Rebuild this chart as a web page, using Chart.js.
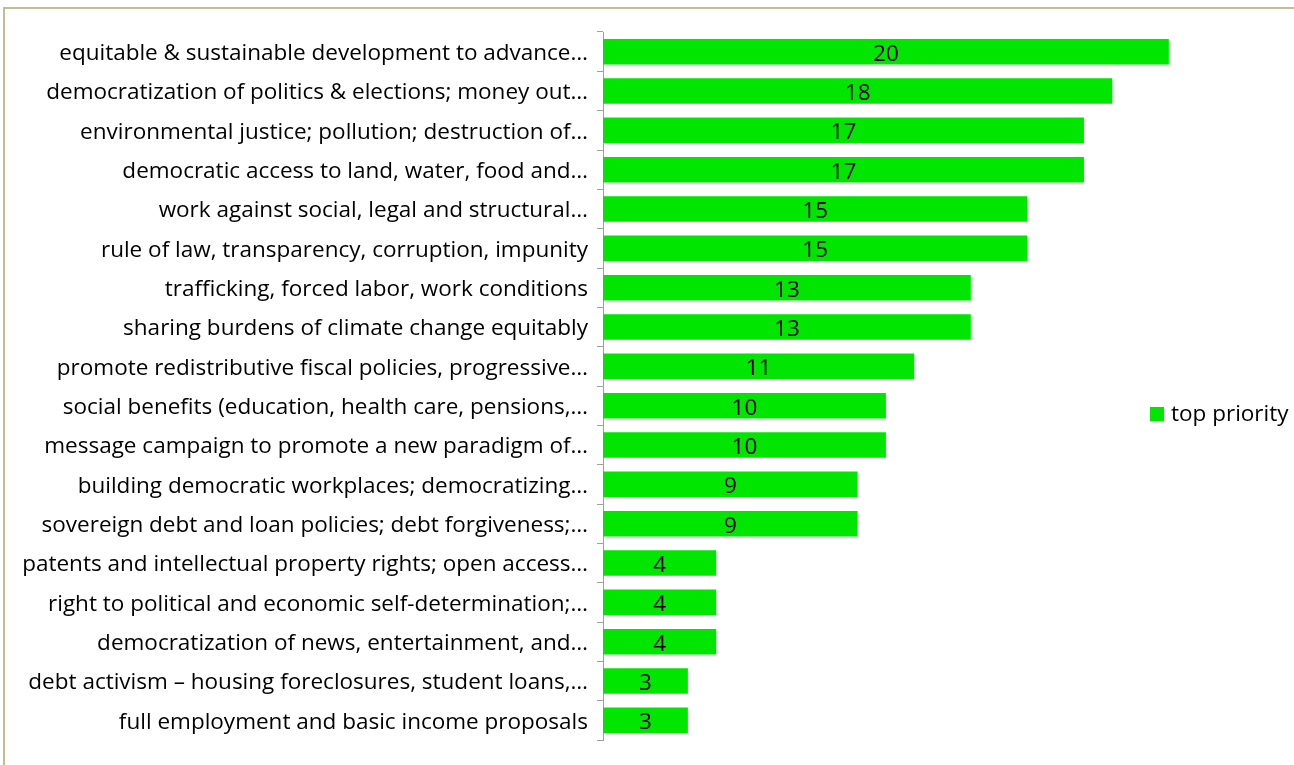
<!DOCTYPE html>
<html>
<head>
<meta charset="utf-8">
<script src="https://cdn.jsdelivr.net/npm/chart.js@4/dist/chart.umd.min.js"></script>
<style>
  html, body { margin: 0; padding: 0; background: #ffffff; overflow: hidden; }
  #wrap { position: relative; width: 1294px; height: 765px; }
  #frame { position: absolute; left: 3px; top: 7px; width: 1320px; height: 800px; border: 2px solid #C4BC96; box-sizing: border-box; pointer-events: none; }
  canvas { position: absolute; left: 0; top: 0; }
</style>
</head>
<body>
<div id="wrap">
  <canvas id="c" width="1294" height="765"></canvas>
  <div id="frame"></div>
</div>
<script>
const categories = [
  "equitable & sustainable development to advance…",
  "democratization of politics & elections; money out…",
  "environmental justice; pollution; destruction of…",
  "democratic access to land, water, food and…",
  "work against social, legal and structural…",
  "rule of law, transparency, corruption, impunity",
  "trafficking, forced labor, work conditions",
  "sharing burdens of climate change equitably",
  "promote redistributive fiscal policies, progressive…",
  "social benefits (education, health care, pensions,…",
  "message campaign to promote a new paradigm of…",
  "building democratic workplaces; democratizing…",
  "sovereign debt and loan policies; debt forgiveness;…",
  "patents and intellectual property rights; open access…",
  "right to political and economic self-determination;…",
  "democratization of news, entertainment, and…",
  "debt activism – housing foreclosures, student loans,…",
  "full employment and basic income proposals"
];
const seriesName = "top priority";
const topPriority = [20, 18, 17, 17, 15, 15, 13, 13, 11, 10, 10, 9, 9, 4, 4, 4, 3, 3];
const barColor = "#00E600";
const FONT = "'Open Sans', Lato, sans-serif";
const FONT_SIZE = 22.5;

const valueLabels = {
  id: 'valueLabels',
  afterDatasetsDraw(chart) {
    const ctx = chart.ctx;
    const meta = chart.getDatasetMeta(0);
    ctx.save();
    ctx.font = FONT_SIZE + "px " + FONT;
    ctx.fillStyle = "#000000";
    ctx.textAlign = "center";
    ctx.textBaseline = "middle";
    meta.data.forEach((bar, i) => {
      const p = bar.getProps(['x', 'y', 'base'], true);
      ctx.fillText(String(chart.data.datasets[0].data[i]), (p.x + p.base) / 2, p.y + 2.5);
    });
    ctx.restore();
  }
};

const sideLegend = {
  id: 'sideLegend',
  afterDraw(chart) {
    const ctx = chart.ctx;
    const ds = chart.data.datasets[0];
    const cy = (chart.chartArea.top + chart.chartArea.bottom) / 2 + 28;
    const x = 1150;
    ctx.save();
    ctx.fillStyle = ds.backgroundColor;
    ctx.fillRect(x, cy - 7, 14, 14);
    ctx.font = FONT_SIZE + "px " + FONT;
    ctx.fillStyle = "#000000";
    ctx.textAlign = "left";
    ctx.textBaseline = "middle";
    ctx.fillText(ds.label, x + 21, cy + 1);
    ctx.restore();
  }
};

new Chart(document.getElementById('c'), {
  type: 'bar',
  data: {
    labels: categories,
    datasets: [{
      label: seriesName,
      data: topPriority,
      backgroundColor: barColor,
      borderWidth: 0,
      barPercentage: 0.65,
      categoryPercentage: 1.0
    }]
  },
  options: {
    indexAxis: 'y',
    responsive: false,
    animation: false,
    layout: { padding: { top: 32, bottom: 25, left: 0, right: 12 } },
    plugins: {
      legend: { display: false },
      tooltip: { enabled: false }
    },
    scales: {
      x: {
        display: false,
        min: 0,
        max: 24
      },
      y: {
        afterFit(scale) { scale.width = 603; },
        grid: {
          offset: true,
          drawOnChartArea: false,
          drawTicks: true,
          tickLength: 6,
          color: '#A0A0A0',
          lineWidth: 1
        },
        border: { display: true, color: '#A0A0A0', width: 1 },
        ticks: {
          color: '#000000',
          font: { family: FONT, size: FONT_SIZE },
          padding: 9,
          labelOffset: 2,
          autoSkip: false
        }
      }
    }
  },
  plugins: [valueLabels, sideLegend]
});
</script>
</body>
</html>
